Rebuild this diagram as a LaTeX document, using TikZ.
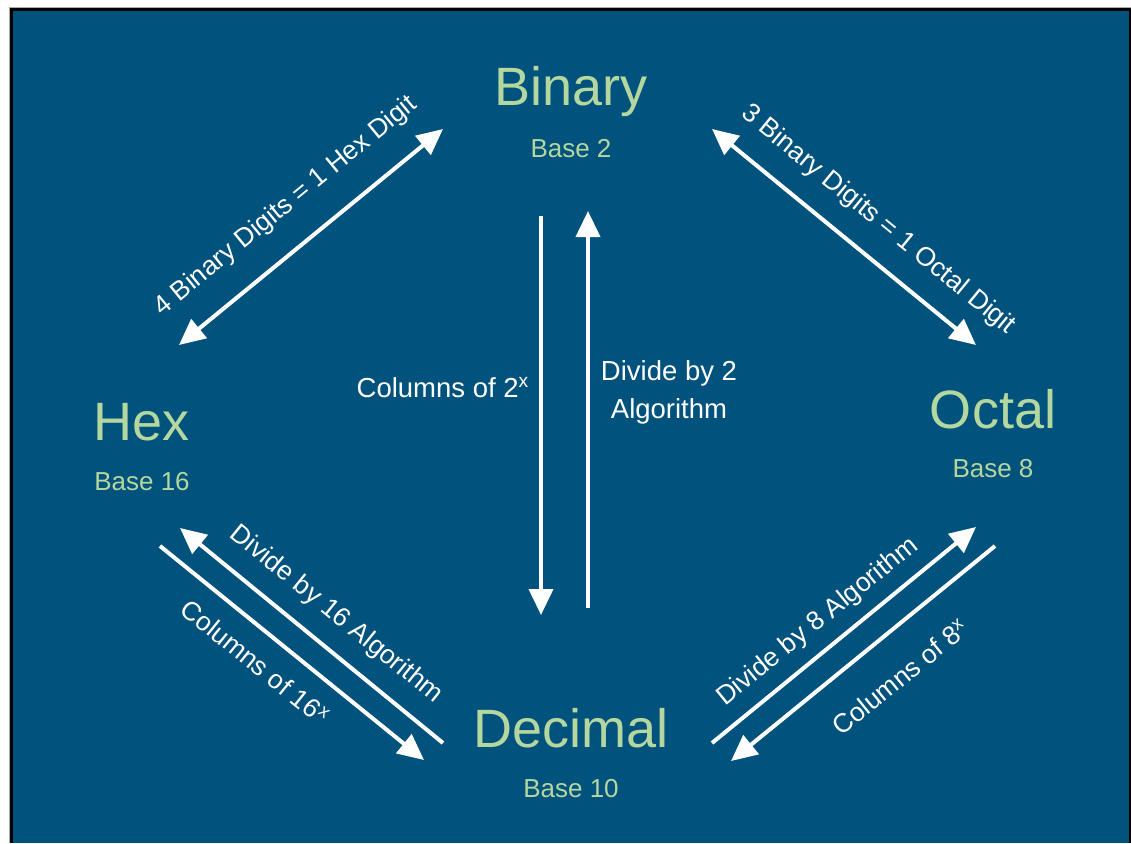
\documentclass[tikz,border=0pt]{standalone}
\usepackage{fontspec}
\setmainfont{Liberation Sans}
\usetikzlibrary{arrows.meta}
\definecolor{bgblue}{RGB}{1,82,124}
\definecolor{titlegreen}{RGB}{180,215,160}
\definecolor{edgegray}{RGB}{170,170,170}
\begin{document}
\begin{tikzpicture}[x=1pt,y=-1pt,
  titletext/.style={text=titlegreen, font=\fontsize{54}{60}\selectfont, inner sep=0pt, anchor=base},
  basetext/.style={text=titlegreen, font=\fontsize{26}{30}\selectfont, inner sep=0pt, anchor=base},
  lbl/.style={text=white, font=\fontsize{26.5}{38}\selectfont, inner sep=0pt},
  vlbl/.style={text=white, font=\fontsize{27.5}{38}\selectfont, inner sep=0pt},
  conv/.style={draw=white, line width=4pt, -{Triangle[length=26pt,width=24pt]}},
  dconv/.style={draw=white, line width=4pt, {Triangle[length=26pt,width=24pt]}-{Triangle[length=26pt,width=24pt]}}
]
\useasboundingbox (0,0) rectangle (1131,843);
\fill[white] (0,0) rectangle (1131,843);
\fill[black] (10,8) rectangle (1131,843);
\fill[bgblue] (13,11) rectangle (1128.5,843);
\draw[edgegray, line width=1pt] (9.5,843) -- (9.5,7.5) -- (1131,7.5);

% titles
\node[titletext] (bin) at (571,105) {Binary};
\node[basetext] (binb) at (571,157) {Base 2};
\node[titletext] (hex) at (142,440) {Hex};
\node[basetext] (hexb) at (142,490) {Base 16};
\node[titletext] (oct) at (993,428) {Octal};
\node[basetext] (octb) at (993,477) {Base 8};
\node[titletext] (dec) at (571,747) {Decimal};
\node[basetext] (decb) at (571,797) {Base 10};

% connector end points
\coordinate (hbA) at (179,345);
\coordinate (hbB) at (443,129);
\coordinate (boA) at (712,129);
\coordinate (boB) at (976,345);
\coordinate (vdA) at (541,216);
\coordinate (vdB) at (541,615);
\coordinate (vuA) at (588,608);
\coordinate (vuB) at (588,211);
\coordinate (hdA) at (160,546);
\coordinate (hdB) at (424,760);
\coordinate (dhA) at (443,743);
\coordinate (dhB) at (180,528);
\coordinate (doA) at (712,743);
\coordinate (doB) at (976,527);
\coordinate (odA) at (995,546);
\coordinate (odB) at (731,761);

% connectors
\draw[dconv] (hbA) -- (hbB);
\draw[dconv] (boA) -- (boB);
\draw[conv] (vdA) -- (vdB);
\draw[conv] (vuA) -- (vuB);
\draw[conv] (hdA) -- (hdB);
\draw[conv] (dhA) -- (dhB);
\draw[conv] (doA) -- (doB);
\draw[conv] (odA) -- (odB);

% labels
\node[lbl, rotate=39.3] (l1) at (286,206) {4 Binary Digits = 1 Hex Digit};
\node[lbl, rotate=-39.3] (l2) at (878,220) {3 Binary Digits = 1 Octal Digit};
\node[vlbl, anchor=base east] (l3) at (529,397) {Columns of 2\textsuperscript{x}};
\node[vlbl, align=center] (l4) at (669,392) {Divide by 2\\Algorithm};
\node[lbl, rotate=-39] (l5) at (336,615) {Divide by 16 Algorithm};
\node[lbl, rotate=-39] (l6) at (255,662) {Columns of 16\textsuperscript{x}};
\node[lbl, rotate=39] (l7) at (818,622) {Divide by 8 Algorithm};
\node[lbl, rotate=39] (l8) at (900,677) {Columns of 8\textsuperscript{x}};
\end{tikzpicture}
\end{document}
